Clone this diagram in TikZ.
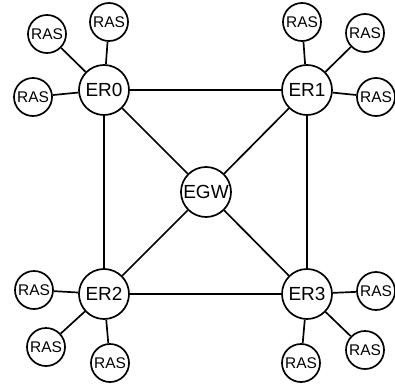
\documentclass[tikz,border=0pt]{standalone}
\usepackage{fontspec}
\setmainfont{Liberation Sans}
\begin{document}
\begin{tikzpicture}[x=0.025cm,y=-0.025cm,line width=1.2pt,
  er/.style={draw,circle,fill=white,minimum size=1.25cm,inner sep=0pt,font=\fontsize{13.5}{15}\selectfont},
  ras/.style={draw,circle,fill=white,minimum size=0.95cm,inner sep=0pt,font=\fontsize{11}{12}\selectfont}]
\useasboundingbox (0,0) rectangle (395,388);
\node[er] (a) at (104,90) {ER0};
\node[er] (b) at (307,90) {ER1};
\node[er] (c) at (104,294) {ER2};
\node[er] (d) at (307,294) {ER3};
\node[er] (e) at (206,192) {EGW};
\node[ras] (a1) at (47,34) {RAS};
\node[ras] (a2) at (109,22) {RAS};
\node[ras] (a3) at (33,97) {RAS};
\node[ras] (b1) at (302,22) {RAS};
\node[ras] (b2) at (365,33) {RAS};
\node[ras] (b3) at (376,97) {RAS};
\node[ras] (c1) at (34,290) {RAS};
\node[ras] (c2) at (46,347) {RAS};
\node[ras] (c3) at (110,363) {RAS};
\node[ras] (d1) at (376,291) {RAS};
\node[ras] (d2) at (365,350) {RAS};
\node[ras] (d3) at (301,363) {RAS};
\draw(a)--(b)--(d)--(c)--(a);
\draw(a)--(e);
\draw(b)--(e);
\draw(c)--(e);
\draw(d)--(e);
\draw(a)--(a1);
\draw(a)--(a2);
\draw(a)--(a3);
\draw(b)--(b1);
\draw(b)--(b2);
\draw(b)--(b3);
\draw(c)--(c1);
\draw(c)--(c2);
\draw(c)--(c3);
\draw(d)--(d1);
\draw(d)--(d2);
\draw(d)--(d3);
\end{tikzpicture}
\end{document}
